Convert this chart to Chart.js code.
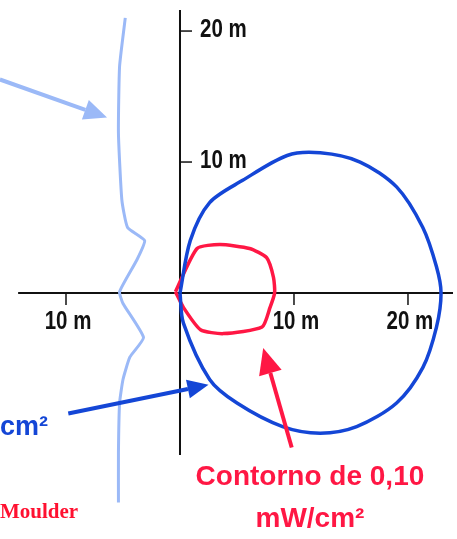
<!DOCTYPE html>
<html>
<head>
<meta charset="utf-8">
<title>Contornos</title>
<script src="https://cdn.jsdelivr.net/npm/chart.js@4"></script>
<style>
    html, body { margin: 0; padding: 0; background: #fff; }
    canvas { display: block; }
</style>
</head>
<body>
<canvas id="contourChart" width="457" height="539"></canvas>
<script>
// Outer contour (blue), metres
const blueX = [0, 0.9, 2.6, 5.5, 9.4, 12.3, 15.8, 19.0, 21.3, 22.5, 22.9, 22.5, 21.3, 19.0, 15.5, 12.3, 9.0, 5.0, 2.6, 0.3, 0];
const blueY = [0, 4.0, 6.9, 8.6, 10.5, 10.7, 10.0, 8.1, 5.0, 2.0, 0, -2.6, -5.7, -8.4, -10.2, -10.7, -10.2, -8.4, -6.6, -2.3, 0];

// 0,10 mW/cm2 contour (red)
const redX = [-0.4, 1.5, 3.5, 6.1, 7.6, 8.2, 8.3, 7.9, 7.2, 3.8, 1.8, 0.3, -0.4];
const redY = [0.1, 3.4, 3.7, 3.4, 2.7, 1.2, 0, -1.1, -2.6, -3.1, -2.8, -1.1, 0.1];

// light blue wavy line on the left
const edgeX = [-4.8, -5.3, -5.4, -5.1, -4.6, -3.1, -3.8, -5.3, -5.0, -3.2, -4.4, -5.0, -5.3, -5.4, -5.4];
const edgeY = [21.0, 17.3, 12.2, 7.1, 5.0, 4.0, 2.5, 0.1, -0.8, -3.4, -4.9, -6.6, -8.4, -12.2, -16.0];

// axis ticks
const xTicks = [-10, 10, 20];
const xTickLabels = ['10 m', '10 m', '20 m'];
const yTicks = [10, 20];
const yTickLabels = ['10 m', '20 m'];

const toPoints = (xs, ys) => xs.map((x, i) => ({ x: x, y: ys[i] }));

// arrows: [fromX, fromY, toX, toY, colour, head size]
const arrows = [
    [-15.8, 16.3, -6.4, 13.4, '#9bb9f7', 23],
    [-9.8, -9.2, 2.5, -7.0, '#1446d6', 21],
    [9.8, -11.8, 7.3, -4.2, '#ff1744', 26],
];

const notes = [
    { text: 'Contorno de 0,10', x: 11.4, y: -14.66, font: 'bold 28px "Liberation Sans", Arial, sans-serif', color: '#ff1744', align: 'center' },
    { text: 'mW/cm²', x: 11.4, y: -17.86, font: 'bold 28px "Liberation Sans", Arial, sans-serif', color: '#ff1744', align: 'center' },
    { text: 'cm²', x: -15.8, y: -10.84, font: 'bold 27px "Liberation Sans", Arial, sans-serif', color: '#1446d6', align: 'left' },
    { text: 'Moulder', x: -15.8, y: -17.18, font: 'bold 21px "Liberation Serif", "Times New Roman", serif', color: '#ff1030', align: 'left' },
];

const tickFont = 'bold 25px "Liberation Sans", Arial, sans-serif';
const tickSqueeze = 0.82;

// squeezed bold label, like the condensed face of the original
const drawTickLabel = (ctx, text, px, py, align) => {
    ctx.save();
    ctx.translate(px, py);
    ctx.scale(tickSqueeze, 1);
    ctx.textAlign = align;
    ctx.fillText(text, 0, 0);
    ctx.restore();
};

// draw the crossing axes under the curves
const axesPlugin = {
    id: 'crossAxes',
    beforeDatasetsDraw(chart) {
        const { ctx, scales: { x, y } } = chart;
        const x0 = x.getPixelForValue(0);
        const y0 = y.getPixelForValue(0);
        ctx.save();
        ctx.strokeStyle = '#111';
        ctx.lineWidth = 2;
        ctx.beginPath();
        ctx.moveTo(x.getPixelForValue(-14.2), y0);
        ctx.lineTo(x.getPixelForValue(23.95), y0);
        ctx.moveTo(x0, y.getPixelForValue(21.6));
        ctx.lineTo(x0, y.getPixelForValue(-12.37));
        ctx.stroke();

        ctx.lineWidth = 1.5;
        ctx.fillStyle = '#111';
        ctx.font = tickFont;
        ctx.textBaseline = 'top';
        xTicks.forEach((v, i) => {
            const px = x.getPixelForValue(v);
            ctx.beginPath();
            ctx.moveTo(px, y0);
            ctx.lineTo(px, y0 + 12);
            ctx.stroke();
            drawTickLabel(ctx, xTickLabels[i], px + 2, y0 + 17, 'center');
        });
        ctx.textBaseline = 'middle';
        yTicks.forEach((v, i) => {
            const py = y.getPixelForValue(v);
            ctx.beginPath();
            ctx.moveTo(x0, py);
            ctx.lineTo(x0 + 12, py);
            ctx.stroke();
            drawTickLabel(ctx, yTickLabels[i], x0 + 20, py - 1, 'left');
        });
        ctx.restore();
    },
    afterDatasetsDraw(chart) {
        const { ctx, scales: { x, y } } = chart;
        ctx.save();
        arrows.forEach(([fx, fy, tx, ty, color, size]) => {
            const x1 = x.getPixelForValue(fx), y1 = y.getPixelForValue(fy);
            const x2 = x.getPixelForValue(tx), y2 = y.getPixelForValue(ty);
            const ang = Math.atan2(y2 - y1, x2 - x1);
            const bx = x2 - Math.cos(ang) * size, by = y2 - Math.sin(ang) * size;
            ctx.strokeStyle = color;
            ctx.fillStyle = color;
            ctx.lineWidth = 4;
            ctx.beginPath();
            ctx.moveTo(x1, y1);
            ctx.lineTo(bx, by);
            ctx.stroke();
            const w = size * 0.45;
            ctx.beginPath();
            ctx.moveTo(x2, y2);
            ctx.lineTo(bx + Math.sin(ang) * w, by - Math.cos(ang) * w);
            ctx.lineTo(bx - Math.sin(ang) * w, by + Math.cos(ang) * w);
            ctx.closePath();
            ctx.fill();
        });
        ctx.textBaseline = 'alphabetic';
        notes.forEach(n => {
            ctx.font = n.font;
            ctx.fillStyle = n.color;
            ctx.textAlign = n.align;
            ctx.fillText(n.text, x.getPixelForValue(n.x), y.getPixelForValue(n.y));
        });
        ctx.restore();
    },
};

const lineSet = (label, xs, ys, color, width, tension) => ({
    label: label,
    data: toPoints(xs, ys),
    showLine: true,
    borderColor: color,
    borderWidth: width,
    pointRadius: 0,
    tension: tension,
    fill: false,
    clip: false,
});

new Chart(document.getElementById('contourChart'), {
    type: 'scatter',
    data: {
        datasets: [
            lineSet('borde', edgeX, edgeY, '#9bb9f7', 3, 0.15),
            lineSet('contorno exterior', blueX, blueY, '#1446d6', 3.5, 0.3),
            lineSet('0,10 mW/cm²', redX, redY, '#ff1744', 3.5, 0.2),
        ],
    },
    options: {
        responsive: false,
        animation: false,
        devicePixelRatio: 1,
        layout: { padding: 0 },
        plugins: {
            legend: { display: false },
            tooltip: { enabled: false },
        },
        scales: {
            x: { type: 'linear', display: false, min: -15.79, max: 24.3 },
            y: { type: 'linear', display: false, min: -18.78, max: 22.37 },
        },
    },
    plugins: [axesPlugin],
});
</script>
</body>
</html>
